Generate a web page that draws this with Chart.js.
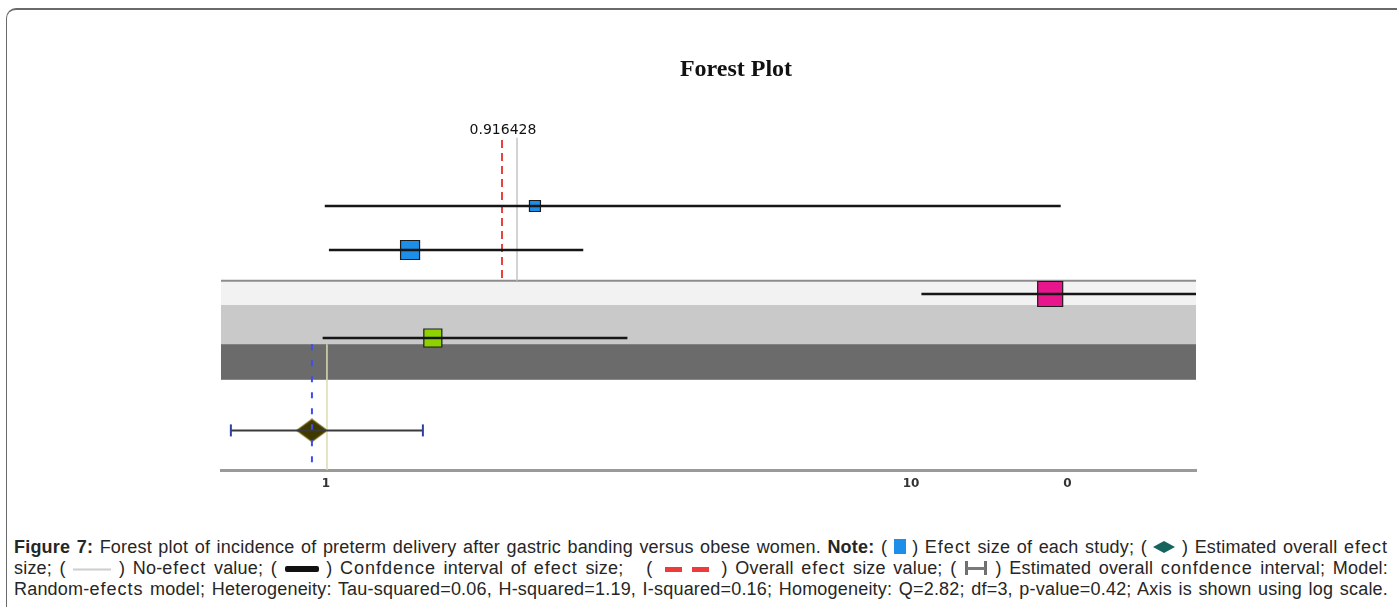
<!DOCTYPE html>
<html>
<head>
<meta charset="utf-8">
<title>Forest Plot</title>
<script src="https://cdn.jsdelivr.net/npm/chart.js@4.4.1/dist/chart.umd.min.js"></script>
<style>
  html, body { margin: 0; padding: 0; background: #fff; width: 1397px; height: 607px; overflow: hidden; }
  #frame { position: absolute; left: 6px; top: 8px; width: 1500px; height: 700px;
           border-left: 1.5px solid #6a6a6a; border-top: 2px solid #6a6a6a; border-top-left-radius: 10px; }
  #chart { position: absolute; left: 0; top: 0; }
  #title { position: absolute; left: 536px; width: 400px; top: 52px; text-align: center;
           font: bold 24px 'Liberation Serif', 'DejaVu Serif', serif; line-height: 32px; color: #111; }
  #caption { position: absolute; left: 14px; top: 537px; width: 1374px;
             font: 18px 'Liberation Sans', Arial, sans-serif; line-height: 21px; color: #262626; letter-spacing: 0.2px; }
  .ln { text-align: justify; text-align-last: justify; height: 21px; white-space: nowrap; }
  .sp { letter-spacing: 1px; }
  .ic { display: inline-block; vertical-align: middle; }
  .sq { width: 12px; height: 15px; background: #1e8fe8; margin-top: -3px; }
  .ne { width: 38px; height: 3px; background: linear-gradient(#f0f0f0, #cfcfcf, #f0f0f0); }
  .ci { width: 34px; height: 6px; background: #111; border-radius: 2px; }
  .rd { width: 17px; height: 5px; background: #ee3a3a; margin: 0 5px; }
  svg.ic { margin-top: -3px; }
</style>
</head>
<body>
<div id="frame"></div>
<canvas id="chart" width="1397" height="500"></canvas>
<div id="title">Forest Plot</div>
<div id="caption">
  <div class="ln"><b>Figure 7:</b> Forest plot of incidence of preterm delivery after gastric banding versus obese women. <b>Note:</b> ( <span class="ic sq"></span> ) <span class="sp">Efect</span> size of each study; ( <svg class="ic" width="22" height="12" viewBox="0 0 22 12"><polygon points="0,6 11,0 22,6 11,12" fill="#17645f"/></svg> ) Estimated overall <span class="sp">efect</span></div>
  <div class="ln">size; ( <span class="ic ne"></span> ) No-<span class="sp">efect</span> value; ( <span class="ic ci"></span> ) <span class="sp">Confdence</span> interval of <span class="sp">efect</span> size; &nbsp; ( <span class="ic rd"></span><span class="ic rd"></span> ) Overall <span class="sp">efect</span> size value; ( <svg class="ic" width="24" height="18" viewBox="0 0 24 18"><rect x="1" y="2" width="3" height="14" fill="#6f6f6f"/><rect x="20" y="2" width="3" height="14" fill="#6f6f6f"/><rect x="3" y="8" width="18" height="3" fill="#7a7a7a"/></svg> ) Estimated overall <span class="sp">confdence</span> interval; Model:</div>
  <div class="ln">Random-<span class="sp">efects</span> model; Heterogeneity: Tau-squared=0.06, H-squared=1.19, I-squared=0.16; Homogeneity: Q=2.82; df=3, p-value=0.42; Axis is shown using log scale.</div>
</div>

<script>
// ---- Study rows (top to bottom): effect size with confidence interval ----
const studyRow    = [1, 2, 3, 4];
const studyEffect = [1.11, 0.537, 22.2, 0.613];
const studyLower  = [0.327, 0.335, 10.5, 0.323];
const studyUpper  = [23.6, 1.47, 61.7, 1.90];

// ---- Pooled random-effects estimate ----
const overallEffect = 0.916428;
const overallLower  = 0.572;
const overallUpper  = 1.747;
const overallRow    = 6.1;
const noEffect      = 1;

// ---- Axis ticks ----
const tickValues = [1, 10, 18.5];
const tickLabels = ['1', '10', '0'];

// ---- Styling ----
const studyColor = ['#1e8fe8', '#1e8fe8', '#e8168c', '#8ed300'];
const studySide  = [11, 19, 25, 18];          // marker side length, px
const bandStyle  = [
  { from: 2.70, to: 3.25, fill: '#f2f2f2', edge: '#8c8c8c' },
  { from: 3.25, to: 4.14, fill: '#c9c9c9', edge: null },
  { from: 4.14, to: 4.95, fill: '#6b6b6b', edge: null }
];

Chart.defaults.font.family = "'DejaVu Sans', sans-serif";

function diamondGlyph(w, h, fill, stroke) {
  const c = document.createElement('canvas');
  c.width = w + 2; c.height = h + 2;
  const g = c.getContext('2d');
  g.beginPath();
  g.moveTo(1, h / 2 + 1); g.lineTo(w / 2 + 1, 1); g.lineTo(w + 1, h / 2 + 1); g.lineTo(w / 2 + 1, h + 1);
  g.closePath();
  g.fillStyle = fill; g.fill();
  g.strokeStyle = stroke; g.lineWidth = 1.2; g.stroke();
  return c;
}

function segment(axisId, x0, y0, x1, y1, color, width, dash, order) {
  return {
    xAxisID: axisId, showLine: true, pointRadius: 0, fill: false, tension: 0,
    borderColor: color, borderWidth: width, borderDash: dash || [], order: order,
    data: [{ x: x0, y: y0 }, { x: x1, y: y1 }]
  };
}

const datasets = [];

// study effect markers
datasets.push({
  xAxisID: 'xt', order: 4,
  data: studyRow.map((r, i) => ({ x: studyEffect[i], y: r })),
  pointStyle: 'rect',
  pointRadius: studySide.map(s => s / Math.SQRT2),
  pointBackgroundColor: studyColor,
  pointBorderColor: '#1c1c1c',
  pointBorderWidth: 1.2
});

// study confidence intervals
studyRow.forEach((r, i) => {
  datasets.push(segment('xt', studyLower[i], r, studyUpper[i], r, '#161616', 2.5, null, 2));
});

// reference lines in the upper panel
datasets.push(segment('xt', noEffect, -0.55, noEffect, 2.7, '#c4c4c4', 1.5, null, 3));
datasets.push(segment('xt', overallEffect, -0.5, overallEffect, 2.68, '#e8433f', 2, [8, 5], 3));

// reference lines in the lower panel
datasets.push(segment('xb', noEffect, 4.14, noEffect, 7, '#dcdab4', 1.5, null, 3));
datasets.push(segment('xb', overallEffect, 4.14, overallEffect, 7, '#3d4ef0', 2, [6, 10], 3));

// pooled estimate: diamond and interval with end caps
datasets.push({
  xAxisID: 'xb', order: 4,
  data: [{ x: overallEffect, y: overallRow }],
  pointStyle: diamondGlyph(30, 22, '#3f3800', '#5f5700'),
  pointRadius: 15
});
datasets.push({
  xAxisID: 'xb', order: 1, showLine: true, tension: 0,
  data: [{ x: overallLower, y: overallRow }, { x: overallUpper, y: overallRow }],
  borderColor: '#3a3a3a', borderWidth: 2,
  pointStyle: 'line', rotation: 90, pointRadius: 6,
  pointBorderColor: '#2f3fa8', pointBorderWidth: 2
});

const bandPlugin = {
  id: 'bands',
  beforeDatasetsDraw(chart) {
    const { ctx, chartArea: a, scales: { y } } = chart;
    ctx.save();
    bandStyle.forEach(b => {
      const top = y.getPixelForValue(b.from), bot = y.getPixelForValue(b.to);
      ctx.fillStyle = b.fill;
      ctx.fillRect(a.left, top, a.right - a.left, bot - top);
      if (b.edge) {
        ctx.strokeStyle = b.edge; ctx.lineWidth = 2;
        ctx.beginPath(); ctx.moveTo(a.left, top); ctx.lineTo(a.right, top); ctx.stroke();
      }
    });
    ctx.restore();
  }
};

const valueLabelPlugin = {
  id: 'overallLabel',
  afterDatasetsDraw(chart) {
    const { ctx, scales: { xt, y } } = chart;
    ctx.save();
    ctx.font = "14px 'DejaVu Sans', sans-serif";
    ctx.fillStyle = '#111';
    ctx.textAlign = 'center';
    ctx.textBaseline = 'middle';
    ctx.fillText(overallEffect.toFixed(6), xt.getPixelForValue(overallEffect) + 1, y.getPixelForValue(-0.73));
    ctx.restore();
  }
};

new Chart(document.getElementById('chart'), {
  type: 'scatter',
  data: { datasets },
  options: {
    responsive: false,
    animation: false,
    devicePixelRatio: 1,
    layout: { padding: { left: 221, right: 201, top: 96, bottom: 0 } },
    plugins: { legend: { display: false }, tooltip: { enabled: false } },
    scales: {
      x: {
        type: 'logarithmic', position: 'bottom', min: 0.6615, max: 30.70,
        grid: { display: false, drawTicks: false },
        border: { display: true, color: '#9a9a9a', width: 3 },
        afterBuildTicks: axis => { axis.ticks = tickValues.map(v => ({ value: v })); },
        afterFit: axis => { axis.height = 30; },
        ticks: {
          autoSkip: false, maxRotation: 0, padding: 7,
          color: '#333', font: { size: 12, weight: 'bold' },
          callback: (v, i) => tickLabels[i]
        }
      },
      xt: { type: 'logarithmic', position: 'bottom', display: false, min: 0.17887, max: 51.83 },
      xb: { type: 'logarithmic', position: 'bottom', display: false, min: 0.5401, max: 156.5 },
      y: { type: 'linear', display: false, min: -1.5, max: 7, reverse: true }
    }
  },
  plugins: [bandPlugin, valueLabelPlugin]
});
</script>
</body>
</html>
